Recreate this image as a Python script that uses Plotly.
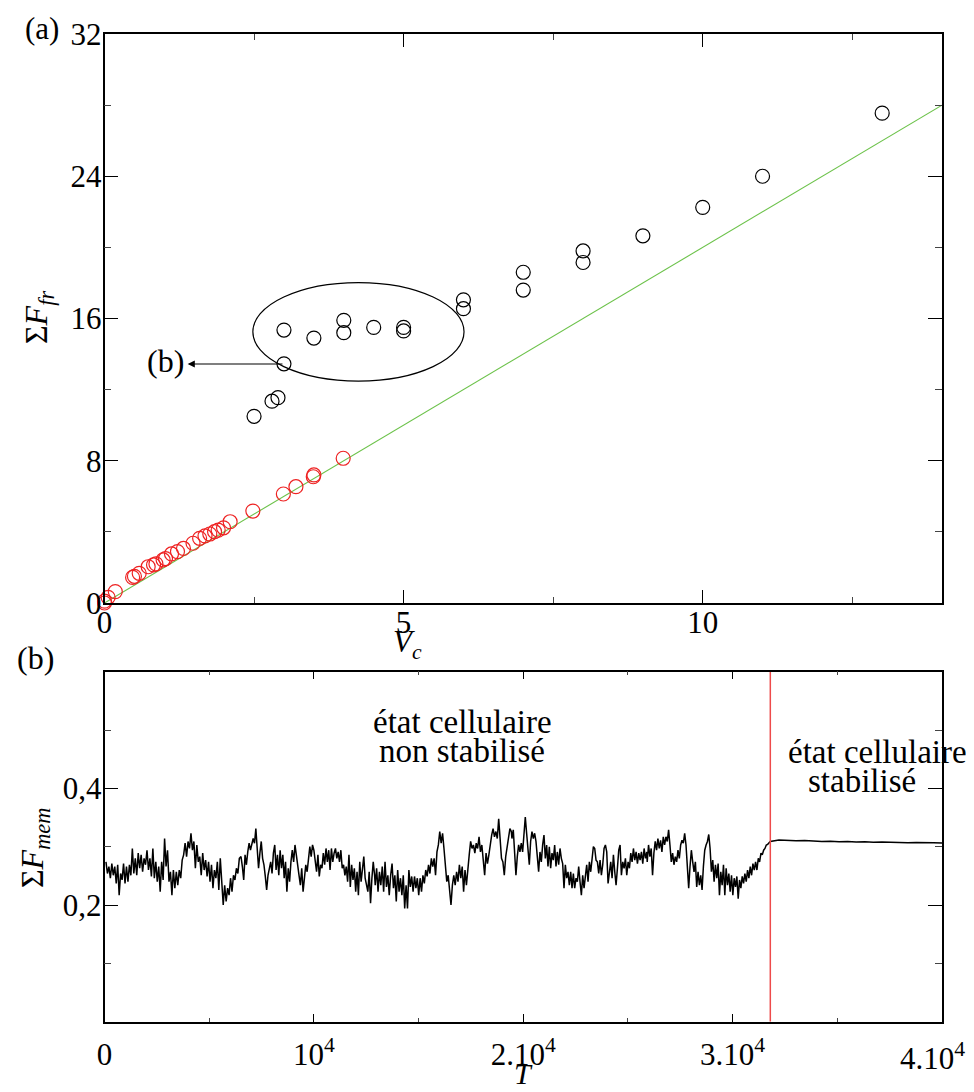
import numpy as np
import plotly.graph_objects as go

W, H = 974, 1092
OFF = 8                      # page body margin in the browser
FW, FH = W - OFF, H - OFF    # figure size
FONT = "Liberation Serif"

# ---------------- Panel (a) data ----------------
vc_black = [2.5, 2.8, 2.9, 3.0, 3.0, 3.5, 4.0, 4.0, 4.5, 5.0, 5.0, 6.0, 6.0,
            7.0, 7.0, 8.0, 8.0, 9.0, 10.0, 11.0, 13.0]
ffr_black = [10.5, 11.35, 11.55, 13.45, 15.35, 14.9, 15.9, 15.2, 15.5, 15.5, 15.3,
             17.05, 16.55, 18.6, 17.6, 19.8, 19.15, 20.65, 22.25, 24.0, 27.55]

vc_red = [0.0, 0.0, 0.06, 0.18, 0.47, 0.5, 0.58, 0.73, 0.82, 0.86, 0.98, 1.02,
          1.12, 1.22, 1.32, 1.48, 1.59, 1.68, 1.76, 1.84, 1.9, 1.99, 2.1,
          2.48, 2.99, 3.2, 3.49, 3.5, 3.99]
ffr_red = [0.0, 0.1, 0.32, 0.64, 1.44, 1.5, 1.67, 2.04, 2.14, 2.2, 2.42, 2.5,
           2.76, 2.89, 3.07, 3.36, 3.64, 3.77, 3.88, 4.01, 4.1, 4.23, 4.57,
           5.17, 6.13, 6.54, 7.1, 7.2, 8.14]

fit_vc = [0.0, 14.0]
fit_ffr = [0.0, 28.0]

# ---------------- Panel (b) data ----------------
# Sum F_mem (thousandths) read along the unstabilised part, in 5 stretches of T
fmem_seg1 = [
    274,254,266,246,271,251,266,237,269,217,254,243,271,237,266,240,269,251,297,254,
    280,251,289,263,286,257,280,269,294,260,280,249,297,246,274,240,266,223,274,243,
    314,266,294,240,257,217,260,229,257,234,260,246,277,286,306,283,309,297,323,294,
    309,263,303,274,283,251,289,260,277,249,274,240,269,229,260,246,274,226,280,246,
    200,234,206,229,217,246,223,251,243,263,254,280,
]
fmem_seg2 = [
    283,266,243,286,269,291,306,294,303,314,306,331,297,263,289,309,280,269,249,226,
    251,266,274,254,289,303,260,286,251,294,263,286,246,274,223,263,240,274,294,274,
    303,286,263,251,234,263,223,246,269,257,286,300,283,303,294,274,257,286,249,269,
    263,289,269,297,274,294,260,297,274,289,297,280,291,274,294,263,269,251,266,240,
    286,231,269,243,263,223,257,217,274,240,257,283,246,234,223,257,203,246,274,251,
]
fmem_seg3 = [
    234,263,223,257,234,266,223,274,231,251,217,251,271,229,251,206,260,223,246,217,
    251,194,234,194,260,231,249,223,249,229,246,217,246,223,251,237,260,249,269,254,
    280,266,280,251,291,303,326,306,323,297,266,240,251,229,200,234,251,234,257,240,
    269,246,266,223,260,234,269,286,309,297,303,289,306,297,317,291,303,274,251,289,
    271,286,309,320,331,317,326,314,348,309,280,274,251,283,300,309,331,326,
]
fmem_seg4 = [
    314,329,297,251,283,303,291,306,291,326,351,323,291,269,309,326,314,323,309,286,
    257,291,274,303,320,280,303,266,300,263,289,277,303,266,291,269,297,280,271,229,
    269,246,257,234,257,229,254,229,246,240,266,240,217,251,229,249,269,240,274,257,
    286,300,297,277,274,254,277,251,269,297,303,291,237,257,274,246,286,257,234,263,
    294,303,251,274,263,280,251,274,263,289,274,297,277,291,271,289,277,291,271,297,
    280,291,
]
fmem_seg5 = [
    274,303,283,297,251,289,309,294,314,297,311,291,317,303,317,309,329,303,274,289,
    269,283,274,294,280,303,311,306,323,303,263,229,266,294,274,257,274,231,257,234,
    251,226,266,294,303,309,321,297,257,277,240,269,246,271,217,257,234,269,217,263,
    234,254,223,251,217,246,231,249,211,243,229,249,237,254,240,260,246,266,251,271,
    260,274,260,280,274,289,286,294,297,303,304,307,309,
]
seg_t_start = [70, 6520, 12930, 19460, 25920]
seg_t_end = [6440, 12900, 19430, 25900, 31800]

# stabilised part, T from t_stab to 4.10^4
fmem_stable = [0.3105, 0.3115, 0.3105, 0.3100, 0.3105, 0.3095, 0.3090, 0.3095,
               0.3085, 0.3090, 0.3080, 0.3085, 0.3075, 0.3080, 0.3072, 0.3076,
               0.3068, 0.3072, 0.3064, 0.3068, 0.3065]
t_stab = 31800
t_end = 40000

T_parts, F_parts = [], []
for seg, t0, t1 in zip([fmem_seg1, fmem_seg2, fmem_seg3, fmem_seg4, fmem_seg5],
                       seg_t_start, seg_t_end):
    T_parts.append(np.linspace(t0, t1, len(seg)))
    F_parts.append(np.array(seg) / 1000.0)
T_stable = np.linspace(t_stab, t_end, len(fmem_stable))
T_all = np.concatenate(T_parts + [T_stable[1:]])
F_all = np.concatenate(F_parts + [np.array(fmem_stable[1:])])

# ---------------- figure ----------------
def px_x(p):
    return (p - OFF) / FW

def px_y(p):
    return 1 - (p - OFF) / FH

dom_x = [px_x(104.5), px_x(942)]
dom_y_a = [px_y(603), px_y(34)]
dom_y_b = [px_y(1021.7), px_y(671.7)]

fig = go.Figure()
fig.add_trace(go.Scatter(x=fit_vc, y=fit_ffr, mode="lines",
                         line=dict(color="#6cc24a", width=1.1),
                         xaxis="x", yaxis="y", hoverinfo="skip"))
fig.add_trace(go.Scatter(x=vc_red, y=ffr_red, mode="markers", cliponaxis=False,
                         marker=dict(symbol="circle-open", size=14, color="#ee2222",
                                     line=dict(color="#ee2222", width=1.2)),
                         xaxis="x", yaxis="y"))
fig.add_trace(go.Scatter(x=vc_black, y=ffr_black, mode="markers", cliponaxis=False,
                         marker=dict(symbol="circle-open", size=14, color="black",
                                     line=dict(color="black", width=1.2)),
                         xaxis="x", yaxis="y"))
fig.add_trace(go.Scatter(x=T_all, y=F_all, mode="lines",
                         line=dict(color="black", width=1.5),
                         xaxis="x2", yaxis="y2"))
fig.add_trace(go.Scatter(x=[t_stab, t_stab], y=[0, 0.6], mode="lines",
                         line=dict(color="#ee4b4b", width=1.5),
                         xaxis="x2", yaxis="y2"))

tickfont = dict(family=FONT, size=31, color="black")
common = dict(showline=True, linecolor="black", linewidth=1.5, mirror="ticks",
              ticks="inside", tickcolor="black", tickwidth=1, showgrid=False,
              zeroline=False, tickfont=tickfont, fixedrange=True, automargin=False,
              ticklabeloverflow="allow")

fig.update_layout(
    width=FW, height=FH, margin=dict(l=0, r=0, t=0, b=0),
    paper_bgcolor="white", plot_bgcolor="white", showlegend=False,
    font=dict(family=FONT, size=31, color="black"),
    xaxis=dict(domain=dom_x, anchor="y", range=[0, 14], tickmode="array",
               tickvals=[0, 5, 10], ticklen=13, ticklabelstandoff=-9,
               minor=dict(tickvals=[2.5, 7.5, 12.5], ticklen=6.5, ticks="inside",
                          tickcolor="#444", showgrid=False), **common),
    yaxis=dict(domain=dom_y_a, anchor="x", range=[0, 32], tickmode="array",
               tickvals=[0, 8, 16, 24, 32], ticklen=14, ticklabelstandoff=-5,
               minor=dict(tickvals=[4, 12, 20, 28], ticklen=7, ticks="inside",
                          tickcolor="#444", showgrid=False), **common),
    xaxis2=dict(domain=dom_x, anchor="y2", range=[0, 40000], tickmode="array",
                tickvals=[0, 10000, 20000, 30000, 40000],
                ticktext=["0", "10<sup>4</sup>", "2.10<sup>4</sup>",
                          "3.10<sup>4</sup>", ""], ticklen=8,
                ticklabelstandoff=4,
                minor=dict(tickvals=[5000, 15000, 25000, 35000], ticklen=4,
                           ticks="inside", tickcolor="#444", showgrid=False),
                **common),
    yaxis2=dict(domain=dom_y_b, anchor="x2", range=[0, 0.6], tickmode="array",
                tickvals=[0.2, 0.4], ticktext=["0,2", "0,4"], ticklen=14,
                ticklabelstandoff=-5,
                minor=dict(tickvals=[0.1, 0.3, 0.5], ticklen=7, ticks="inside",
                           tickcolor="#444", showgrid=False), **common),
)

fig.add_shape(type="circle", xref="x", yref="y", x0=2.48, x1=6.01, y0=12.48, y1=18.02,
              line=dict(color="black", width=1.2))

def ann(text, x, y, size=32, angle=0, yanchor="middle"):
    fig.add_annotation(text=text, x=px_x(x), y=px_y(y), xref="paper", yref="paper",
                       showarrow=False, textangle=angle, xanchor="center",
                       yanchor=yanchor, font=dict(family=FONT, size=size, color="black"))

# last tick label of the T axis, kept inside the page like the reference
fig.add_annotation(text="4.10<sup>4</sup>", x=t_end, xref="x2", y=px_y(1056), yref="paper",
                   xanchor="right", yanchor="middle", xshift=25, showarrow=False,
                   font=dict(family=FONT, size=31, color="black"))

# arrow pointing to (b)
fig.add_annotation(x=1.39, y=13.44, ax=3.0, ay=13.44, xref="x", yref="y",
                   axref="x", ayref="y", text="", showarrow=True, arrowhead=2,
                   arrowsize=1.3, arrowwidth=1.1, arrowcolor="black", standoff=0)

ann("(a)", 42, 9, size=31, yanchor="top")
ann("(b)", 35, 658)
ann("(b)", 165, 361)
ann("Σ<i>F</i><sub><i>fr</i></sub>", 38, 318, size=32, angle=-90)
ann("<i>V</i><sub><i>c</i></sub>", 407, 644, size=31)
ann("Σ<i>F</i><sub><i>mem</i></sub>", 34, 848, size=32, angle=-90)
ann("<i>T</i>", 523, 1092, size=30, yanchor="bottom")
ann("état cellulaire", 462, 722, size=33)
ann("non stabilisé", 462, 751, size=33)
ann("état cellulaire", 877, 752, size=33)
ann("stabilisé", 862, 781, size=33)

fig.write_html("out.html")
